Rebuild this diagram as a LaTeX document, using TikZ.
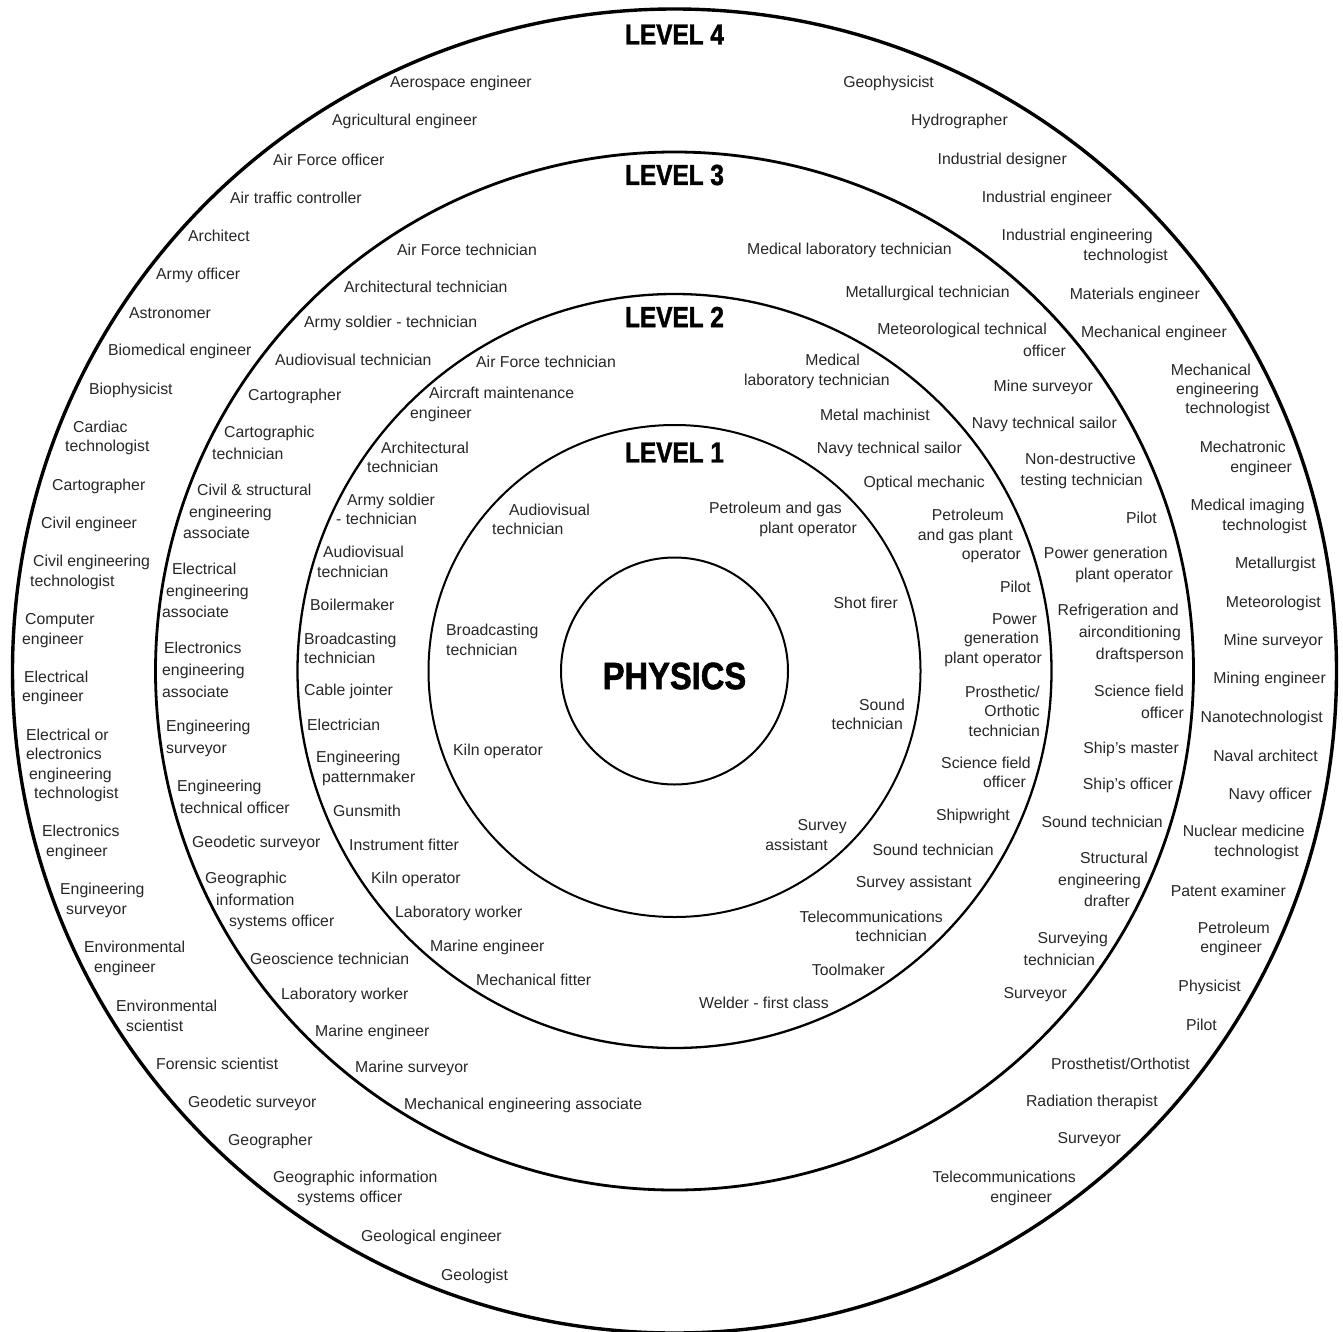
\documentclass[tikz,border=0pt]{standalone}
\usepackage{fontspec}
\setmainfont{Liberation Sans}
\newfontfamily\levelfont[FakeStretch=0.84,BoldFeatures={FakeBold=1.5}]{Liberation Sans}
\newfontfamily\physfont[FakeStretch=0.86,BoldFeatures={FakeBold=1.5}]{Liberation Sans}
\newcommand\jobfont{\fontsize{15.8}{19.4}\selectfont}
\newcommand\jobfontw{\fontsize{15.8}{21.7}\selectfont}
\newcommand\pad[1]{\makebox[#1]{}}
\definecolor{ink}{gray}{0.15}

\begin{document}
\begin{tikzpicture}[x=1pt, y=-1pt,
  ring/.style={draw, circle, inner sep=0pt},
  lvl/.style={font=\levelfont\bfseries\fontsize{29}{29}\selectfont, inner sep=0pt},
  job/.style={font=\jobfont, text=ink, inner sep=0pt},
  jobw/.style={job, font=\jobfontw},
  lt/.style={anchor=west, align=left},
  rt/.style={anchor=east, align=right},
  ct/.style={anchor=center, align=center}]
\useasboundingbox (0,0) rectangle (1343,1332);

% rings
\node[ring, line width=3.4pt, minimum size=1324pt] (ring4) at (674.5,671) {};
\node[ring, line width=2.8pt, minimum size=1038pt] (ring3) at (674.5,671) {};
\node[ring, line width=2.3pt, minimum size=754pt] (ring2) at (674.5,671) {};
\node[ring, line width=2pt, minimum size=492pt] (ring1) at (674.5,671) {};
\node[ring, line width=2pt, minimum size=227pt, text height=36.2pt, text depth=0pt,
  font=\physfont\bfseries\fontsize{38}{38}\selectfont] (core) at (674.5,671) {PHYSICS};

\node[lvl] (lv4) at (674.5,34.5) {LEVEL 4};
\node[lvl] (lv3) at (674.5,175) {LEVEL 3};
\node[lvl] (lv2) at (674.5,317) {LEVEL 2};
\node[lvl] (lv1) at (674.5,452.5) {LEVEL 1};

% level 4, left
\node[job, lt] (r4l1) at (390,83) {Aerospace engineer};
\node[job, lt] (r4l2) at (332,121) {Agricultural engineer};
\node[job, lt] (r4l3) at (273,160) {Air Force officer};
\node[job, lt] (r4l4) at (230,198) {Air traffic controller};
\node[job, lt] (r4l5) at (188,236) {Architect};
\node[job, lt] (r4l6) at (156,275) {Army officer};
\node[job, lt] (r4l7) at (129,313) {Astronomer};
\node[job, lt] (r4l8) at (108,351) {Biomedical engineer};
\node[job, lt] (r4l9) at (89,390) {Biophysicist};
\node[job, lt] (r4l10) at (65,438) {\pad{8pt}Cardiac\\technologist};
\node[job, lt] (r4l11) at (52,486) {Cartographer};
\node[job, lt] (r4l12) at (41,524) {Civil engineer};
\node[job, lt] (r4l13) at (30,572.5) {\pad{3pt}Civil engineering\\technologist};
\node[job, lt] (r4l14) at (22,630.5) {\pad{3pt}Computer\\engineer};
\node[job, lt] (r4l15) at (22,688) {\pad{2pt}Electrical\\engineer};
\node[job, lt] (r4l16) at (26,765.5) {Electrical or\\electronics\\\pad{3pt}engineering\\\pad{8pt}technologist};
\node[job, lt] (r4l17) at (42,842.5) {Electronics\\\pad{4pt}engineer};
\node[job, lt] (r4l18) at (60,900.5) {Engineering\\\pad{6pt}surveyor};
\node[job, lt] (r4l19) at (84,958.5) {Environmental\\\pad{10pt}engineer};
\node[job, lt] (r4l20) at (116,1016) {Environmental\\\pad{10pt}scientist};
\node[job, lt] (r4l21) at (156,1064) {Forensic scientist};
\node[job, lt] (r4l22) at (188,1103) {Geodetic surveyor};
\node[job, lt] (r4l23) at (228,1141) {Geographer};
\node[job, lt] (r4l24) at (273,1188.5) {Geographic information\\\pad{24pt}systems officer};
\node[job, lt] (r4l25) at (361,1237) {Geological engineer};
\node[job, lt] (r4l26) at (441,1276) {Geologist};

% level 4, right
\node[job, rt] (r4r1) at (934,83) {Geophysicist};
\node[job, rt] (r4r2) at (1008,121) {Hydrographer};
\node[job, rt] (r4r3) at (1067,160) {Industrial designer};
\node[job, rt] (r4r4) at (1112,198) {Industrial engineer};
\node[job, rt] (r4r5) at (1168,246.5) {Industrial engineering\pad{15pt}\\technologist};
\node[job, rt] (r4r6) at (1200,295) {Materials engineer};
\node[job, rt] (r4r7) at (1227,333) {Mechanical engineer};
\node[job, rt] (r4r8) at (1270,390.5) {Mechanical\pad{19pt}\\engineering\pad{11pt}\\technologist};
\node[job, rt] (r4r9) at (1292,458.5) {Mechatronic\pad{6pt}\\engineer};
\node[job, rt] (r4r10) at (1307,516.5) {Medical imaging\pad{2pt}\\technologist};
\node[job, rt] (r4r11) at (1316,564) {Metallurgist};
\node[job, rt] (r4r12) at (1321,603) {Meteorologist};
\node[job, rt] (r4r13) at (1323,641) {Mine surveyor};
\node[job, rt] (r4r14) at (1326,679) {Mining engineer};
\node[job, rt] (r4r15) at (1323,718) {Nanotechnologist};
\node[job, rt] (r4r16) at (1318,756) {Naval architect};
\node[job, rt] (r4r17) at (1312,795) {Navy officer};
\node[job, rt] (r4r18) at (1305,842.5) {Nuclear medicine\\technologist\pad{6pt}};
\node[job, rt] (r4r19) at (1286,891) {Patent examiner};
\node[job, rt] (r4r20) at (1270,939) {Petroleum\\engineer\pad{8pt}};
\node[job, rt] (r4r21) at (1241,987) {Physicist};
\node[job, rt] (r4r22) at (1217,1025) {Pilot};
\node[job, rt] (r4r23) at (1190,1064) {Prosthetist/Orthotist};
\node[job, rt] (r4r24) at (1158,1102) {Radiation therapist};
\node[job, rt] (r4r25) at (1121,1140) {Surveyor};
\node[job, rt] (r4r26) at (1076,1188.5) {Telecommunications\\engineer\pad{24pt}};

% level 3, left
\node[jobw, lt] (r3l1) at (397,250) {Air Force technician};
\node[jobw, lt] (r3l2) at (344,287) {Architectural technician};
\node[jobw, lt] (r3l3) at (304,323) {Army soldier - technician};
\node[jobw, lt] (r3l4) at (275,360) {Audiovisual technician};
\node[jobw, lt] (r3l5) at (248,396) {Cartographer};
\node[jobw, lt] (r3l6) at (212,443) {\pad{12pt}Cartographic\\technician};
\node[jobw, lt] (r3l7) at (183,511.5) {\pad{14pt}Civil \& structural\\\pad{6pt}engineering\\associate};
\node[jobw, lt] (r3l8) at (162,590.5) {\pad{10pt}Electrical\\\pad{4pt}engineering\\associate};
\node[jobw, lt] (r3l9) at (162,670) {\pad{2pt}Electronics\\engineering\\associate};
\node[jobw, lt] (r3l10) at (166,738.5) {Engineering\\surveyor};
\node[jobw, lt] (r3l11) at (177,796.5) {Engineering\\\pad{3pt}technical officer};
\node[jobw, lt] (r3l12) at (192,843) {Geodetic surveyor};
\node[jobw, lt] (r3l13) at (205,901) {Geographic\\\pad{11pt}information\\\pad{24pt}systems officer};
\node[jobw, lt] (r3l14) at (250,959) {Geoscience technician};
\node[jobw, lt] (r3l15) at (281,995) {Laboratory worker};
\node[jobw, lt] (r3l16) at (315,1032) {Marine engineer};
\node[jobw, lt] (r3l17) at (355,1068) {Marine surveyor};
\node[jobw, lt] (r3l18) at (404,1105) {Mechanical engineering associate};

% level 3, right
\node[jobw, rt] (r3r1) at (952,250) {Medical laboratory technician};
\node[jobw, rt] (r3r2) at (1010,293) {Metallurgical technician};
\node[jobw, rt] (r3r3) at (1066,340) {Meteorological technical\pad{19pt}\\officer};
\node[jobw, rt] (r3r4) at (1093,387) {Mine surveyor};
\node[jobw, rt] (r3r5) at (1117,424) {Navy technical sailor};
\node[jobw, rt] (r3r6) at (1143,471) {Non-destructive\pad{7pt}\\testing technician};
\node[jobw, rt] (r3r7) at (1157,518) {Pilot};
\node[jobw, rt] (r3r8) at (1173,565) {Power generation\pad{5pt}\\plant operator};
\node[jobw, rt] (r3r9) at (1184,633.5) {Refrigeration and\pad{5pt}\\airconditioning\pad{3pt}\\draftsperson};
\node[jobw, rt] (r3r10) at (1184,702) {Science field\\officer};
\node[jobw, rt] (r3r11) at (1179,749) {Ship’s master};
\node[jobw, rt] (r3r12) at (1173,785) {Ship’s officer};
\node[jobw, rt] (r3r13) at (1163,822) {Sound technician};
\node[jobw, rt] (r3r14) at (1148,879.5) {Structural\\engineering\pad{7pt}\\drafter\pad{18pt}};
\node[jobw, rt] (r3r15) at (1108,948.5) {Surveying\\technician\pad{13pt}};
\node[jobw, rt] (r3r16) at (1067,995) {Surveyor};

% level 2, left
\node[job, lt] (r2l1) at (476,362) {Air Force technician};
\node[job, lt] (r2l2) at (410,404.5) {\pad{19pt}Aircraft maintenance\\engineer};
\node[job, lt] (r2l3) at (367,457.5) {\pad{14pt}Architectural\\technician};
\node[job, lt] (r2l4) at (336,509.5) {\pad{11pt}Army soldier\\- technician};
\node[job, lt] (r2l5) at (317,562) {\pad{6pt}Audiovisual\\technician};
\node[job, lt] (r2l6) at (310,605) {Boilermaker};
\node[job, lt] (r2l7) at (304,648.5) {Broadcasting\\technician};
\node[job, lt] (r2l8) at (304,691) {Cable jointer};
\node[job, lt] (r2l9) at (307,725) {Electrician};
\node[job, lt] (r2l10) at (316,768.5) {Engineering\\\pad{6pt}patternmaker};
\node[job, lt] (r2l11) at (333,811) {Gunsmith};
\node[job, lt] (r2l12) at (349,845) {Instrument fitter};
\node[job, lt] (r2l13) at (371,879) {Kiln operator};
\node[job, lt] (r2l14) at (395,913) {Laboratory worker};
\node[job, lt] (r2l15) at (430,947) {Marine engineer};
\node[job, lt] (r2l16) at (476,980) {Mechanical fitter};

% level 2, right
\node[job, rt] (r2r1) at (890,371.5) {Medical\pad{30pt}\\laboratory technician};
\node[job, rt] (r2r2) at (930,415) {Metal machinist};
\node[job, rt] (r2r3) at (962,449) {Navy technical sailor};
\node[job, rt] (r2r4) at (985,483) {Optical mechanic};
\node[job, rt] (r2r5) at (1021,536) {Petroleum\pad{17pt}\\and gas plant\pad{8pt}\\operator};
\node[job, rt] (r2r6) at (1031,587) {Pilot};
\node[job, rt] (r2r7) at (1042,640) {Power\pad{5pt}\\generation\pad{3pt}\\plant operator};
\node[job, rt] (r2r8) at (1040,711) {Prosthetic/\\Orthotic\\technician};
\node[job, rt] (r2r9) at (1031,772.5) {Science field\\officer\pad{5pt}};
\node[job, rt] (r2r10) at (1010,816) {Shipwright};
\node[job, rt] (r2r11) at (994,850) {Sound technician};
\node[job, rt] (r2r12) at (972,883) {Survey assistant};
\node[job, rt] (r2r13) at (943,926.5) {Telecommunications\\technician\pad{16pt}};
\node[job, rt] (r2r14) at (885,970) {Toolmaker};
\node[job, rt] (r2r15) at (829,1003) {Welder - first class};

% level 1
\node[job, lt] (r1a) at (492,519.5) {\pad{17pt}Audiovisual\\technician};
\node[job, rt] (r1b) at (857,519.5) {Petroleum and gas\pad{15pt}\\plant operator};
\node[job, rt] (r1c) at (898,603) {Shot firer};
\node[job, lt] (r1d) at (446,640) {Broadcasting\\technician};
\node[job, rt] (r1e) at (905,714.5) {Sound\\technician\pad{2pt}};
\node[job, lt] (r1f) at (453,751) {Kiln operator};
\node[job, rt] (r1g) at (847,835) {Survey\\assistant\pad{19pt}};
\end{tikzpicture}
\end{document}
